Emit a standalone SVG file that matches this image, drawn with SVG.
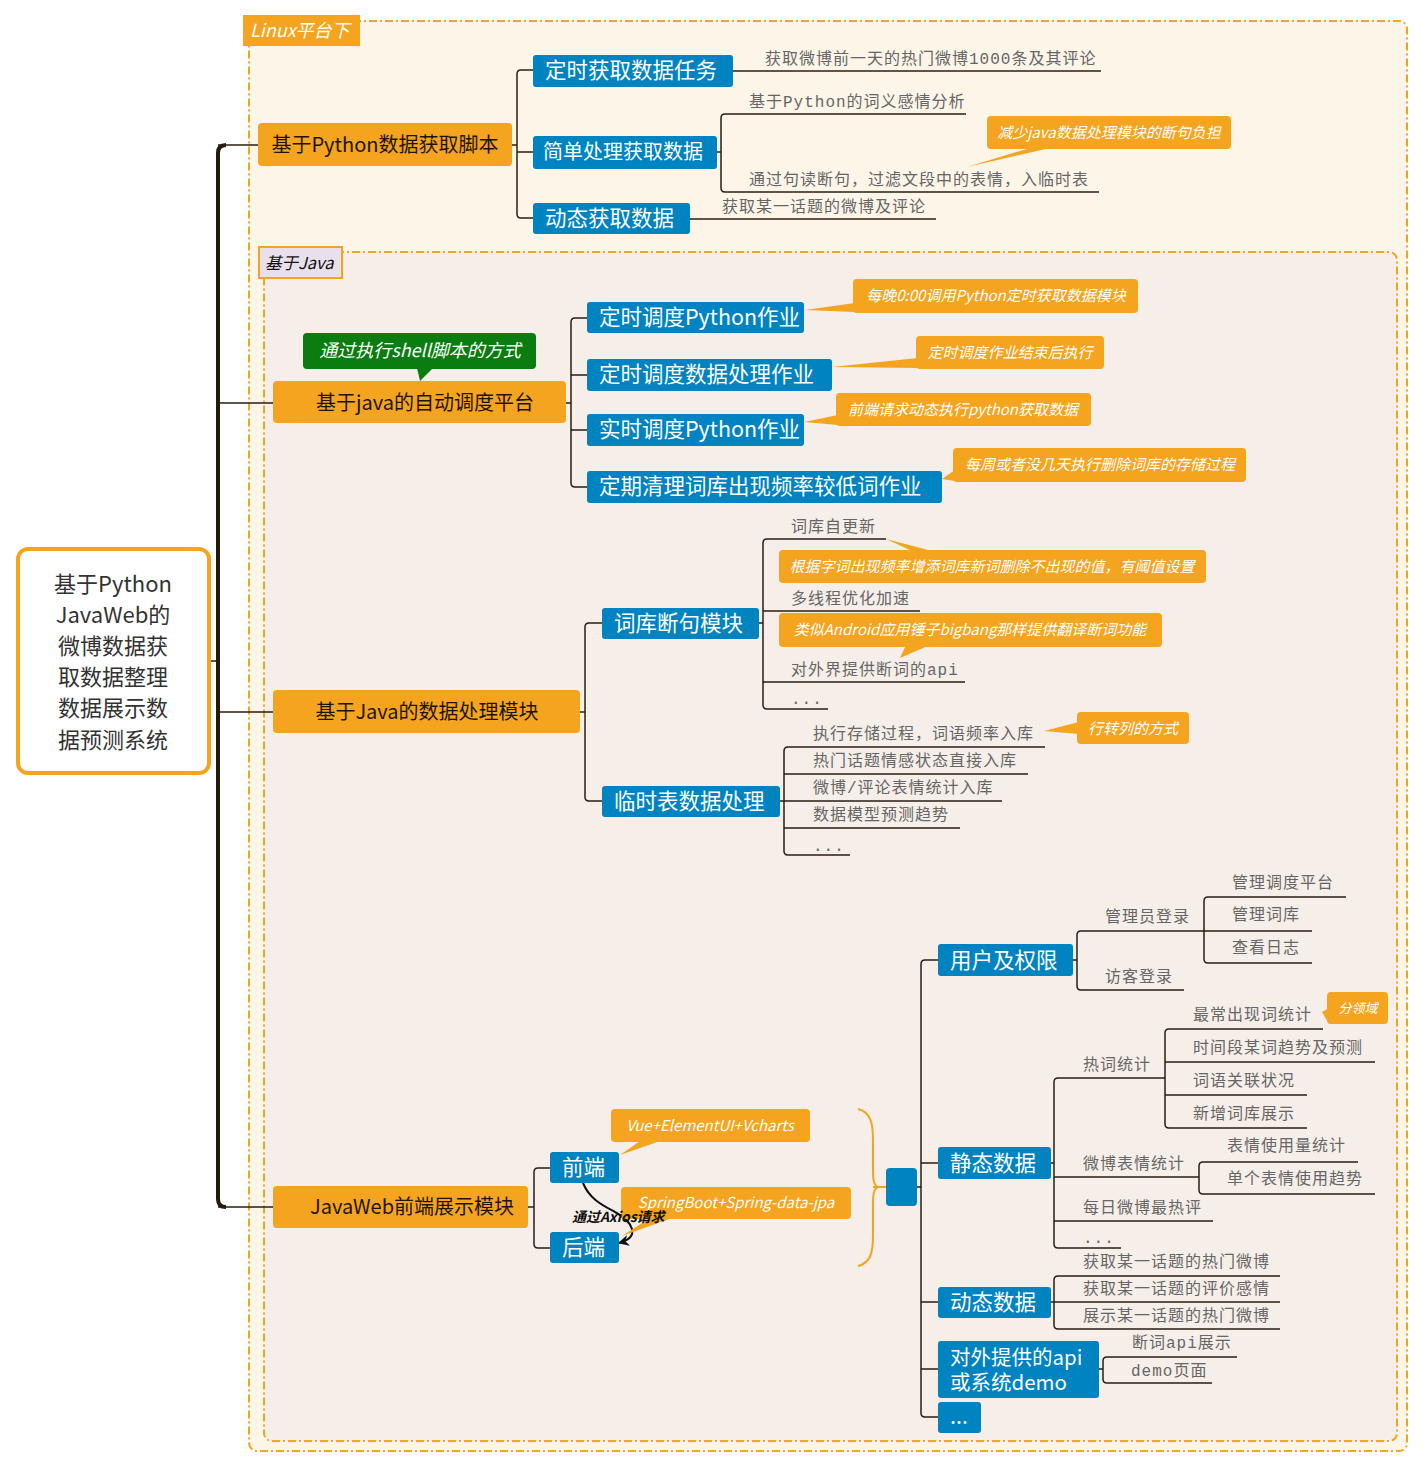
<svg xmlns="http://www.w3.org/2000/svg" width="1424" height="1469" viewBox="0 0 1424 1469">
<defs>
<style>
.sec{stroke:#f5a41f;stroke-width:2;stroke-dasharray:8 3 2 3}
.ln{fill:none;stroke:#2a1e10;stroke-width:1.5}
.trunk{fill:none;stroke:#231a0c;stroke-width:4}
.main rect{fill:#f5a41f}
.main text{font-family:"Noto Sans CJK SC",sans-serif;font-size:20px;fill:#1e1405;text-anchor:middle}
.sub rect{fill:#0083c1}
.sub text{font-family:"Noto Sans CJK SC",sans-serif;font-size:21.5px;fill:#fff}
.lf{font-family:"Liberation Mono","Noto Sans CJK SC",monospace;font-size:16px;letter-spacing:1px;fill:#666}
.co rect,.co polygon{fill:#f5a41f}
.co text{font-family:"Noto Sans CJK SC",sans-serif;font-size:15px;font-style:italic;fill:#fff;text-anchor:middle}
.root text{font-family:"Noto Sans CJK SC",sans-serif;font-size:22px;fill:#333;text-anchor:middle}
</style>
<marker id="arrow" viewBox="0 0 10 10" refX="9" refY="5" markerWidth="11" markerHeight="11" markerUnits="userSpaceOnUse" orient="auto">
<path d="M0,0 L10,5 L0,10 L3,5 z" fill="#111"/>
</marker>
</defs>

<!-- boundary areas -->
<g id="boundary-linux">
<rect class="sec" x="249" y="21" width="1158" height="1430" rx="8" fill="#fdf5e8"/>
<rect x="243" y="15" width="117" height="31" fill="#f5a41f"/>
<text x="250" y="37" font-family="Noto Sans CJK SC,sans-serif" font-size="18" font-style="italic" fill="#fff">Linux平台下</text>
</g>
<g id="boundary-java">
<rect class="sec" x="264" y="252" width="1133" height="1189" rx="8" fill="#f6eee8"/>
<rect x="259" y="247" width="83" height="31" fill="#e8e0ea" stroke="#f5a41f" stroke-width="2"/>
<text x="265" y="269" font-family="Noto Sans CJK SC,sans-serif" font-size="16.5" font-style="italic" fill="#111">基于Java</text>
</g>

<!-- connectors -->
<g id="connectors">
<path class="trunk" d="M226,145 Q218,145 218,153 V1199 Q218,1207 226,1207"/>
<path class="ln" d="M209,661 H218 M218,145 H258 M218,403 H273 M218,712 H273 M218,1207 H273"/>

<!-- python script branch -->
<path class="ln" d="M512,145 H517 M533,70 H521 Q517,70 517,74 V214 Q517,218 521,218 H533 M517,152 H533"/>
<path class="ln" d="M733,71 H1101"/>
<path class="ln" d="M717,152 H721 M966,114 H725 Q721,114 721,118 V188 Q721,192 725,192 H1099"/>
<path class="ln" d="M690,219 H936"/>

<!-- scheduler branch -->
<path class="ln" d="M566,403 H571 M587,318 H575 Q571,318 571,322 V483 Q571,487 575,487 H587 M571,375 H587 M571,430 H587"/>

<!-- data processing branch -->
<path class="ln" d="M580,712 H585 M602,623 H589 Q585,623 585,627 V797 Q585,801 589,801 H602"/>
<path class="ln" d="M759,623 H763 M886,539 H767 Q763,539 763,543 V705 Q763,709 767,709 H828 M763,611 H920 M763,682 H965"/>
<path class="ln" d="M780,801 H784 M1045,747 H788 Q784,747 784,751 V851 Q784,855 788,855 H850 M784,774 H1028 M784,801 H1002 M784,828 H960"/>

<!-- web branch -->
<path class="ln" d="M528,1207 H534 M550,1168 H538 Q534,1168 534,1172 V1244 Q534,1248 538,1248 H550"/>
<path d="M858,1109 C871,1112 873,1124 873,1140 L873,1172 C873,1182 875,1187 879,1187 C875,1187 873,1192 873,1202 L873,1236 C873,1251 871,1263 858,1266 M873,1187 H887" fill="none" stroke="#f5a41f" stroke-width="2"/>
<path class="ln" d="M917,1187 H921 M938,960 H925 Q921,960 921,964 V1413 Q921,1417 925,1417 H938 M921,1163 H938 M921,1302 H938 M921,1369 H938"/>
<path class="ln" d="M1073,960 H1077 M1312,931 H1081 Q1077,931 1077,935 V986 Q1077,990 1081,990 H1184"/>
<path class="ln" d="M1346,897 H1208 Q1204,897 1204,901 V959 Q1204,963 1208,963 H1312"/>
<path class="ln" d="M1051,1163 H1054 M1165,1078 H1058 Q1054,1078 1054,1082 V1244 Q1054,1248 1058,1248 H1121 M1054,1177 H1199 M1054,1221 H1213"/>
<path class="ln" d="M1323,1029 H1169 Q1165,1029 1165,1033 V1124 Q1165,1128 1169,1128 H1307 M1165,1062 H1375 M1165,1095 H1307"/>
<path class="ln" d="M1358,1162 H1203 Q1199,1162 1199,1166 V1190 Q1199,1194 1203,1194 H1375"/>
<path class="ln" d="M1051,1302 H1054 M1280,1276 H1058 Q1054,1276 1054,1280 V1325 Q1054,1329 1058,1329 H1280 M1054,1302 H1280"/>
<path class="ln" d="M1099,1369 H1103 M1237,1357 H1107 Q1103,1357 1103,1361 V1379 Q1103,1383 1107,1383 H1212"/>

<!-- front end to back end request -->
<path d="M583,1183 C590,1200 604,1206 615,1212 C633,1222 641,1237 619,1243" fill="none" stroke="#111" stroke-width="2" marker-end="url(#arrow)"/>
</g>

<!-- root -->
<g id="root" class="root">
<rect x="18" y="549" width="191" height="224" rx="10" fill="#fff" stroke="#f5a41f" stroke-width="4"/>
<text x="113" y="592">基于Python</text>
<text x="113" y="623">JavaWeb的</text>
<text x="113" y="654">微博数据获</text>
<text x="113" y="685">取数据整理</text>
<text x="113" y="716">数据展示数</text>
<text x="113" y="748">据预测系统</text>
</g>

<!-- python script -->
<g id="node-python-script" class="main"><rect x="258" y="123" width="254" height="43" rx="4"/><text x="385" y="152">基于Python数据获取脚本</text></g>
<g id="node-timed-fetch" class="sub"><rect x="533" y="55" width="200" height="32" rx="3"/><text x="545" y="78">定时获取数据任务</text></g>
<g id="node-simple-process" class="sub"><rect x="533" y="136" width="184" height="33" rx="3"/><text x="543" y="159" style="font-size:20px">简单处理获取数据</text></g>
<g id="node-dynamic-fetch" class="sub"><rect x="533" y="203" width="157" height="31" rx="3"/><text x="545" y="226">动态获取数据</text></g>
<g id="leaf-hot-weibo"><text class="lf" x="765" y="64">获取微博前一天的热门微博1000条及其评论</text></g>
<g id="leaf-sentiment"><text class="lf" x="749" y="107">基于Python的词义感情分析</text></g>
<g id="leaf-split"><text class="lf" x="749" y="185">通过句读断句，过滤文段中的表情，入临时表</text></g>
<g id="leaf-topic"><text class="lf" x="722" y="212">获取某一话题的微博及评论</text></g>
<g id="note-reduce" class="co"><polygon points="1030,148 1050,148 967,167"/><rect x="987" y="116" width="244" height="33" rx="4"/><text x="1109" y="138">减少java数据处理模块的断句负担</text></g>

<!-- scheduler -->
<g id="note-shell"><rect x="303" y="333" width="233" height="36" rx="4" fill="#0a7c10"/><polygon points="417,368 433,368 420,381" fill="#0a7c10"/><text x="420" y="357" font-family="Noto Sans CJK SC,sans-serif" font-size="18" font-style="italic" fill="#fff" text-anchor="middle">通过执行shell脚本的方式</text></g>
<g id="node-scheduler" class="main"><rect x="273" y="381" width="293" height="42" rx="4"/><text x="425" y="410">基于java的自动调度平台</text></g>
<g id="node-sched-python" class="sub"><rect x="587" y="302" width="217" height="31" rx="3"/><text x="599" y="325">定时调度Python作业</text></g>
<g id="node-sched-process" class="sub"><rect x="587" y="359" width="245" height="32" rx="3"/><text x="599" y="382">定时调度数据处理作业</text></g>
<g id="node-realtime-python" class="sub"><rect x="587" y="414" width="217" height="32" rx="3"/><text x="599" y="437">实时调度Python作业</text></g>
<g id="node-clean" class="sub"><rect x="587" y="471" width="355" height="32" rx="3"/><text x="599" y="494">定期清理词库出现频率较低词作业</text></g>
<g id="note-midnight" class="co"><polygon points="855,303 855,312 805,310"/><rect x="853" y="279" width="285" height="34" rx="4"/><text x="996" y="301">每晚0:00调用Python定时获取数据模块</text></g>
<g id="note-after" class="co"><polygon points="918,358 918,368 832,367"/><rect x="916" y="336" width="188" height="33" rx="4"/><text x="1010" y="358">定时调度作业结束后执行</text></g>
<g id="note-request" class="co"><polygon points="838,415 838,425 804,422"/><rect x="836" y="393" width="255" height="33" rx="4"/><text x="963" y="415">前端请求动态执行python获取数据</text></g>
<g id="note-weekly" class="co"><polygon points="955,470 955,481 942,479"/><rect x="953" y="448" width="293" height="34" rx="4"/><text x="1100" y="470">每周或者没几天执行删除词库的存储过程</text></g>

<!-- data processing -->
<g id="node-processing" class="main"><rect x="273" y="690" width="307" height="43" rx="4"/><text x="427" y="719">基于Java的数据处理模块</text></g>
<g id="node-segment" class="sub"><rect x="602" y="608" width="157" height="31" rx="3"/><text x="614" y="631">词库断句模块</text></g>
<g id="node-temp" class="sub"><rect x="602" y="786" width="178" height="31" rx="3"/><text x="614" y="809">临时表数据处理</text></g>
<g id="leaf-self-update"><text class="lf" x="791" y="532">词库自更新</text></g>
<g id="leaf-multithread"><text class="lf" x="791" y="604">多线程优化加速</text></g>
<g id="leaf-api"><text class="lf" x="791" y="675">对外界提供断词的api</text></g>
<g id="leaf-seg-more"><text class="lf" x="791" y="704">...</text></g>
<g id="note-threshold" class="co"><polygon points="886,539 912,551 932,551"/><rect x="779" y="550" width="427" height="33" rx="4"/><text x="992" y="572">根据字词出现频率增添词库新词删除不出现的值，有阈值设置</text></g>
<g id="note-bigbang" class="co"><polygon points="906,645 930,645 900,658"/><rect x="779" y="613" width="383" height="34" rx="4"/><text x="970" y="635">类似Android应用锤子bigbang那样提供翻译断词功能</text></g>
<g id="leaf-procedure"><text class="lf" x="813" y="739">执行存储过程，词语频率入库</text></g>
<g id="leaf-topic-sentiment"><text class="lf" x="813" y="766">热门话题情感状态直接入库</text></g>
<g id="leaf-emoji"><text class="lf" x="813" y="793">微博/评论表情统计入库</text></g>
<g id="leaf-model"><text class="lf" x="813" y="820">数据模型预测趋势</text></g>
<g id="leaf-temp-more"><text class="lf" x="813" y="851">...</text></g>
<g id="note-pivot" class="co"><polygon points="1079,722 1079,734 1044,731"/><rect x="1077" y="712" width="112" height="32" rx="4"/><text x="1133" y="734">行转列的方式</text></g>

<!-- web display -->
<g id="node-web" class="main"><rect x="273" y="1186" width="255" height="42" rx="4"/><text x="412" y="1214">JavaWeb前端展示模块</text></g>
<g id="node-frontend" class="sub"><rect x="550" y="1152" width="69" height="31" rx="3"/><text x="562" y="1175">前端</text></g>
<g id="node-backend" class="sub"><rect x="550" y="1232" width="69" height="31" rx="3"/><text x="562" y="1255">后端</text></g>
<g id="note-vue" class="co"><polygon points="640,1141 660,1141 620,1155"/><rect x="611" y="1109" width="199" height="33" rx="4"/><text x="710" y="1131">Vue+ElementUI+Vcharts</text></g>
<g id="note-spring" class="co"><polygon points="650,1218 672,1218 622,1236"/><rect x="621" y="1187" width="230" height="32" rx="4"/><text x="736" y="1208">SpringBoot+Spring-data-jpa</text></g>
<g id="label-axios"><text x="572" y="1222" font-family="Noto Sans CJK SC,sans-serif" font-size="14" font-weight="bold" font-style="italic" fill="#111">通过Axios请求</text></g>
<g id="node-summary" class="sub"><rect x="886" y="1168" width="31" height="38" rx="4"/></g>

<g id="node-user" class="sub"><rect x="938" y="944" width="135" height="32" rx="3"/><text x="950" y="968">用户及权限</text></g>
<g id="node-static" class="sub"><rect x="938" y="1147" width="113" height="32" rx="3"/><text x="950" y="1171">静态数据</text></g>
<g id="node-dynamic" class="sub"><rect x="938" y="1287" width="113" height="31" rx="3"/><text x="950" y="1310">动态数据</text></g>
<g id="node-api" class="sub"><rect x="938" y="1341" width="161" height="57" rx="3"/><text x="950" y="1365" style="font-size:20.5px">对外提供的api<tspan x="950" y="1390">或系统demo</tspan></text></g>
<g id="node-more" class="sub"><rect x="938" y="1402" width="43" height="31" rx="3"/><text x="950" y="1424">...</text></g>

<g id="leaf-admin"><text class="lf" x="1105" y="922">管理员登录</text></g>
<g id="leaf-guest"><text class="lf" x="1105" y="982">访客登录</text></g>
<g id="leaf-manage-platform"><text class="lf" x="1232" y="888">管理调度平台</text></g>
<g id="leaf-manage-dict"><text class="lf" x="1232" y="920">管理词库</text></g>
<g id="leaf-log"><text class="lf" x="1232" y="953">查看日志</text></g>

<g id="leaf-hotword"><text class="lf" x="1083" y="1070">热词统计</text></g>
<g id="leaf-emoji-stat"><text class="lf" x="1083" y="1169">微博表情统计</text></g>
<g id="leaf-daily"><text class="lf" x="1083" y="1213">每日微博最热评</text></g>
<g id="leaf-static-more"><text class="lf" x="1083" y="1243">...</text></g>
<g id="leaf-frequent"><text class="lf" x="1193" y="1020">最常出现词统计</text></g>
<g id="leaf-trend"><text class="lf" x="1193" y="1053">时间段某词趋势及预测</text></g>
<g id="leaf-relation"><text class="lf" x="1193" y="1086">词语关联状况</text></g>
<g id="leaf-new-words"><text class="lf" x="1193" y="1119">新增词库展示</text></g>
<g id="note-domain" class="co"><polygon points="1329,1008 1329,1024 1322,1012"/><rect x="1327" y="992" width="61" height="32" rx="4"/><text x="1358" y="1013" style="font-size:13px">分领域</text></g>
<g id="leaf-emoji-usage"><text class="lf" x="1227" y="1151">表情使用量统计</text></g>
<g id="leaf-emoji-trend"><text class="lf" x="1227" y="1184">单个表情使用趋势</text></g>

<g id="leaf-topic-hot"><text class="lf" x="1083" y="1267">获取某一话题的热门微博</text></g>
<g id="leaf-topic-eval"><text class="lf" x="1083" y="1294">获取某一话题的评价感情</text></g>
<g id="leaf-topic-show"><text class="lf" x="1083" y="1321">展示某一话题的热门微博</text></g>
<g id="leaf-api-demo"><text class="lf" x="1132" y="1348">断词api展示</text></g>
<g id="leaf-demo-page"><text class="lf" x="1131" y="1376">demo页面</text></g>
</svg>
